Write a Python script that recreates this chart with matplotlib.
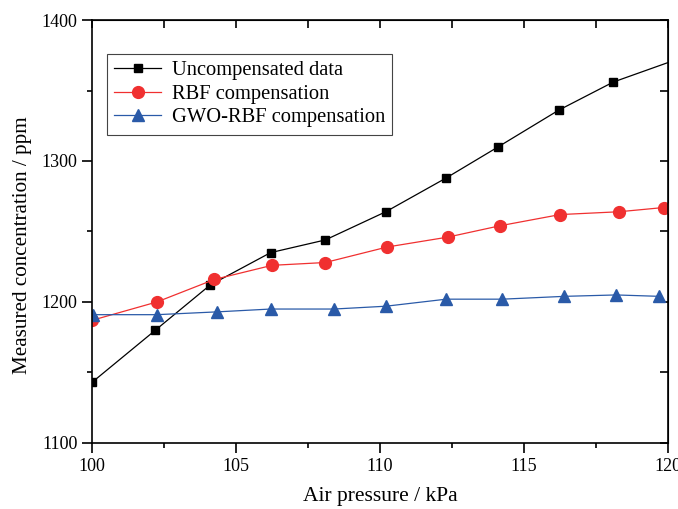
import matplotlib
matplotlib.use('Agg')
import matplotlib.pyplot as plt
from matplotlib.ticker import MultipleLocator

plt.rcParams['font.family'] = ['Liberation Serif', 'DejaVu Serif']

# readings
pressure_raw = [100.0, 102.2, 104.1, 106.2, 108.1, 110.2, 112.3, 114.1, 116.2, 118.1, 120.3]
conc_raw = [1143, 1180, 1212, 1235, 1244, 1264, 1288, 1310, 1336, 1356, 1372]

pressure_rbf = [100.0, 102.25, 104.25, 106.25, 108.1, 110.25, 112.35, 114.15, 116.25, 118.3, 119.85]
conc_rbf = [1187, 1200, 1216, 1226, 1228, 1239, 1246, 1254, 1262, 1264, 1267]

pressure_gwo = [100.05, 102.25, 104.35, 106.2, 108.4, 110.2, 112.3, 114.25, 116.4, 118.2, 119.7]
conc_gwo = [1191, 1191, 1193, 1195, 1195, 1197, 1202, 1202, 1204, 1205, 1204]

labels = ['Uncompensated data', 'RBF compensation', 'GWO-RBF compensation']

fig = plt.figure(figsize=(6.78, 5.09), dpi=100)
ax = fig.add_axes([0.1357, 0.1297, 0.8496, 0.831])

ax.plot(pressure_raw, conc_raw, color='black', lw=0.9, marker='s', ms=6.3,
        label=labels[0])
ax.plot(pressure_rbf, conc_rbf, color='#f03030', lw=0.9, marker='o', ms=8.5,
        label=labels[1])
ax.plot(pressure_gwo, conc_gwo, color='#2a5aa8', lw=0.9, marker='^', ms=8.5,
        label=labels[2])

ax.set_xlim(100, 120)
ax.set_ylim(1100, 1400)
ax.xaxis.set_major_locator(MultipleLocator(5))
ax.xaxis.set_minor_locator(MultipleLocator(2.5))
ax.yaxis.set_major_locator(MultipleLocator(100))
ax.yaxis.set_minor_locator(MultipleLocator(50))

for s in ax.spines.values():
    s.set_linewidth(1.2)

ax.tick_params(which='major', direction='out', length=7, width=1.2,
               labelsize=13, top=False, right=False)
ax.tick_params(which='minor', direction='out', length=3.6, width=1.2,
               top=False, right=False)

# mirrored inward ticks on top and right
secx = ax.secondary_xaxis('top')
secx.xaxis.set_major_locator(MultipleLocator(2.5))
secx.tick_params(direction='in', length=6, width=1.2, labeltop=False)
secy = ax.secondary_yaxis('right')
secy.yaxis.set_major_locator(MultipleLocator(50))
secy.tick_params(direction='in', length=6, width=1.2, labelright=False)

ax.set_xlabel('Air pressure / kPa', fontsize=15.5, labelpad=9)
ax.set_ylabel('Measured concentration / ppm', fontsize=15.2)
ax.yaxis.set_label_coords(-0.104, 0.468)

leg = ax.legend(loc='upper left', bbox_to_anchor=(0.026, 0.92), fontsize=14.8,
                fancybox=False, edgecolor='#444444', framealpha=1,
                handlelength=2.3, borderpad=0.35, labelspacing=0.2,
                handletextpad=0.5, borderaxespad=0)
leg.get_frame().set_linewidth(0.8)

fig.savefig('out.png', dpi=100)
